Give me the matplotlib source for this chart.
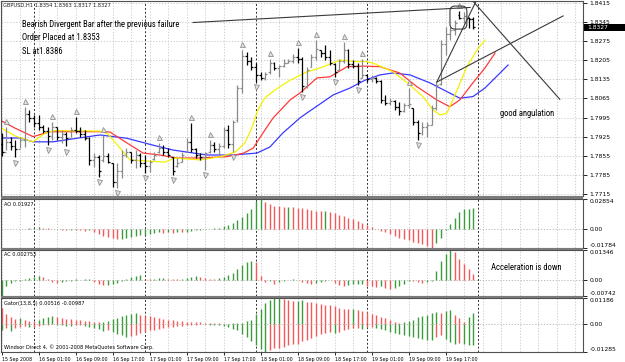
import numpy as np
import matplotlib
matplotlib.use("Agg")
import matplotlib.pyplot as plt
from matplotlib.patches import FancyBboxPatch, Rectangle
from matplotlib import font_manager as fm
from matplotlib.textpath import TextPath
import logging
logging.getLogger('matplotlib.font_manager').setLevel(logging.ERROR)

# ---------------- data (GBPUSD H1, 15 Sep 17:00 .. 19 Sep 23:00) ----------------
bar_open = [1.7900, 1.7870, 1.7905, 1.7890, 1.7880, 1.7915, 1.8010, 1.7995, 1.7975, 1.7960,
            1.7945, 1.7930, 1.7960, 1.7925, 1.7935, 1.7920, 1.7950, 1.7945, 1.7935, 1.7920,
            1.7840, 1.7850, 1.7840, 1.7855, 1.7830, 1.7760, 1.7800, 1.7860, 1.7870, 1.7840,
            1.7860, 1.7830, 1.7820, 1.7845, 1.7870, 1.7885, 1.7870, 1.7850, 1.7820, 1.7835,
            1.7870, 1.7905, 1.7880, 1.7860, 1.7850, 1.7870, 1.7895, 1.7880, 1.7890, 1.7950,
            1.7900, 1.7985, 1.8105, 1.8220, 1.8200, 1.8180, 1.8150, 1.8140, 1.8160, 1.8195,
            1.8175, 1.8185, 1.8195, 1.8200, 1.8215, 1.8210, 1.8110, 1.8180, 1.8215, 1.8240,
            1.8230, 1.8215, 1.8190, 1.8170, 1.8200, 1.8240, 1.8190, 1.8185, 1.8140, 1.8150,
            1.8135, 1.8140, 1.8128, 1.8060, 1.8050, 1.8055, 1.8035, 1.8020, 1.8040, 1.8030,
            1.7980, 1.7940, 1.7960, 1.7970, 1.8030, 1.8118, 1.8265, 1.8300, 1.8315, 1.8370,
            1.8360, 1.8360, 1.8354]
bar_high = [1.7939, 1.7961, 1.7925, 1.7914, 1.7925, 1.8034, 1.8023, 1.8005, 1.8005, 1.7968,
            1.7961, 1.7979, 1.7961, 1.7950, 1.7943, 1.7961, 1.7998, 1.7961, 1.7950, 1.7925,
            1.7866, 1.7859, 1.7932, 1.7866, 1.7830, 1.7830, 1.7877, 1.7884, 1.7870, 1.7877,
            1.7866, 1.7859, 1.7841, 1.7870, 1.7903, 1.7895, 1.7884, 1.7852, 1.7848, 1.7870,
            1.7921, 1.7976, 1.7884, 1.7866, 1.7870, 1.7914, 1.7906, 1.7903, 1.7961, 1.7968,
            1.7987, 1.8114, 1.8242, 1.8235, 1.8216, 1.8194, 1.8162, 1.8162, 1.8209, 1.8198,
            1.8187, 1.8209, 1.8209, 1.8227, 1.8249, 1.8216, 1.8180, 1.8227, 1.8278, 1.8242,
            1.8260, 1.8242, 1.8194, 1.8209, 1.8271, 1.8245, 1.8205, 1.8194, 1.8209, 1.8151,
            1.8151, 1.8143, 1.8132, 1.8078, 1.8067, 1.8060, 1.8052, 1.8049, 1.8103, 1.8030,
            1.7987, 1.7979, 1.7979, 1.8041, 1.8125, 1.8278, 1.8326, 1.8326, 1.8351, 1.8385,
            1.8380, 1.8362, 1.8363]
bar_low = [1.7855, 1.7877, 1.7877, 1.7850, 1.7884, 1.7888, 1.7979, 1.7961, 1.7950, 1.7939,
           1.7895, 1.7914, 1.7914, 1.7903, 1.7890, 1.7925, 1.7939, 1.7925, 1.7914, 1.7822,
           1.7815, 1.7779, 1.7833, 1.7830, 1.7742, 1.7739, 1.7775, 1.7852, 1.7830, 1.7811,
           1.7815, 1.7793, 1.7797, 1.7841, 1.7866, 1.7859, 1.7852, 1.7786, 1.7815, 1.7833,
           1.7870, 1.7870, 1.7848, 1.7841, 1.7804, 1.7866, 1.7870, 1.7859, 1.7884, 1.7884,
           1.7870, 1.7980, 1.8085, 1.8187, 1.8169, 1.8125, 1.8132, 1.8132, 1.8155, 1.8169,
           1.8144, 1.8180, 1.8194, 1.8194, 1.8194, 1.8089, 1.8103, 1.8180, 1.8205, 1.8216,
           1.8205, 1.8187, 1.8144, 1.8169, 1.8194, 1.8176, 1.8176, 1.8114, 1.8140, 1.8125,
           1.8125, 1.8122, 1.8049, 1.8041, 1.8041, 1.8023, 1.8005, 1.8016, 1.8030, 1.7968,
           1.7914, 1.7932, 1.7925, 1.7968, 1.8023, 1.8115, 1.8224, 1.8278, 1.8297, 1.8354,
           1.8340, 1.8322, 1.8317]
bar_close = [1.7870, 1.7905, 1.7890, 1.7880, 1.7915, 1.8010, 1.7995, 1.7975, 1.7960, 1.7945,
             1.7930, 1.7960, 1.7925, 1.7935, 1.7920, 1.7950, 1.7945, 1.7935, 1.7920, 1.7840,
             1.7850, 1.7800, 1.7855, 1.7835, 1.7760, 1.7800, 1.7860, 1.7870, 1.7840, 1.7860,
             1.7830, 1.7820, 1.7835, 1.7860, 1.7885, 1.7870, 1.7860, 1.7800, 1.7830, 1.7860,
             1.7905, 1.7880, 1.7860, 1.7850, 1.7865, 1.7895, 1.7880, 1.7890, 1.7950, 1.7900,
             1.7980, 1.8105, 1.8220, 1.8200, 1.8180, 1.8150, 1.8140, 1.8155, 1.8195, 1.8175,
             1.8185, 1.8195, 1.8200, 1.8215, 1.8210, 1.8110, 1.8170, 1.8215, 1.8245, 1.8230,
             1.8215, 1.8195, 1.8160, 1.8200, 1.8240, 1.8190, 1.8185, 1.8130, 1.8150, 1.8135,
             1.8140, 1.8128, 1.8060, 1.8050, 1.8055, 1.8035, 1.8020, 1.8040, 1.8045, 1.7980,
             1.7940, 1.7960, 1.7970, 1.8030, 1.8115, 1.8265, 1.8300, 1.8315, 1.8340, 1.8360,
             1.8365, 1.8354, 1.8327]

fractal_up = [1, 5, 11, 16, 22, 34, 41, 45, 52, 58, 64, 68, 74, 78, 88, 99]
fractal_down = [3, 10, 14, 21, 25, 31, 37, 44, 50, 55, 65, 72, 77, 90]

# Alligator lines (bar position, price)
jaw_x = [0, 4, 6.8, 11.1, 16.3, 21.3, 27.1, 32.7, 37.1, 44.4, 50, 55.2, 58, 60.8, 64.5, 66,
         71.7, 75.3, 78.6, 81.8, 84.6, 88.3, 92.6, 96.3, 99.1, 101.9, 104.5, 109.5]
jaw_y = [1.7921, 1.7921, 1.7907, 1.7907, 1.7920, 1.7932, 1.7920, 1.7895, 1.7877, 1.7859, 1.7859,
         1.7866, 1.7888, 1.7939, 1.7994, 1.8012, 1.8078, 1.8103, 1.8132, 1.8151, 1.8158, 1.8151,
         1.8122, 1.8090, 1.8066, 1.8072, 1.8103, 1.8187]
teeth_x = [0, 2.9, 6.8, 10.5, 21.3, 23.4, 27.1, 30.6, 34.2, 37.9, 42.9, 48.7, 52.2, 54.4, 56.5,
           58.7, 62.4, 64.5, 68.2, 71, 74.7, 78.6, 81.8, 86.1, 89.8, 94.1, 96.9, 99.1, 101.9,
           104.5, 106.7]
teeth_y = [1.7983, 1.7957, 1.7926, 1.7944, 1.7944, 1.7943, 1.7903, 1.7866, 1.7859, 1.7848, 1.7848,
           1.7853, 1.7865, 1.7884, 1.7939, 1.7994, 1.8060, 1.8085, 1.8140, 1.8144, 1.8181, 1.8183,
           1.8181, 1.8158, 1.8108, 1.8060, 1.8035, 1.8060, 1.8122, 1.8176, 1.8231]
lips_x = [0, 3, 6.8, 9.4, 11.5, 21.3, 23, 25.2, 27.8, 35.3, 37.5, 42.9, 47.2, 50.5, 52.6, 54.1,
          55.4, 56.9, 59.1, 62.4, 66, 68.8, 73.2, 76, 78.6, 80.3, 84.6, 87.7, 91.1, 93.3, 94.8,
          96.3, 98.5, 100.6, 102.8, 104.5]
lips_y = [1.7957, 1.7928, 1.7907, 1.7939, 1.7948, 1.7946, 1.7936, 1.7892, 1.7841, 1.7833, 1.7848,
          1.7841, 1.7852, 1.7870, 1.7903, 1.7957, 1.8023, 1.8067, 1.8096, 1.8132, 1.8162, 1.8176,
          1.8205, 1.8200, 1.8200, 1.8194, 1.8163, 1.8122, 1.8072, 1.8023, 1.8005, 1.8012, 1.8096,
          1.8181, 1.8242, 1.8278]

# hand-drawn trend lines ((bar, price), (bar, price))
trend_lines = [((41.4, 1.8342), (101.3, 1.8397)),
               ((94.1, 1.8125), (102.7, 1.8424)),
               ((94.1, 1.8125), (121.4, 1.8366)),
               ((101.7, 1.8424), (120.7, 1.8062))]
circle_box = (96.95, 1.8318, 3.65, 0.0084)   # bar, price, width(bars), height(price)

ao = [0.0003, -0.0002, 0.0002, -0.0003, 0.0001, 0.0003, 0.0005, 0.0010, 0.0018, 0.0012,
      0.0006, 0.0003, -0.0005, -0.0010, -0.0012, -0.0009, -0.0011, -0.0014, -0.0016, -0.0013,
      -0.0030, -0.0048, -0.0062, -0.0075, -0.0085, -0.0093, -0.0090, -0.0084, -0.0078, -0.0070,
      -0.0060, -0.0052, -0.0047, -0.0040, -0.0033, -0.0036, -0.0031, -0.0034, -0.0029, -0.0031,
      -0.0025, -0.0018, -0.0012, -0.0007, -0.0004, 0.0002, 0.0006, 0.0010, 0.0024, 0.0040,
      0.0055, 0.0080, 0.0110, 0.0150, 0.0190, 0.0265, 0.02854, 0.0249, 0.0233, 0.0218,
      0.0211, 0.0208, 0.0209, 0.0205, 0.0199, 0.0193, 0.0187, 0.0180, 0.0171, 0.0165,
      0.0167, 0.0160, 0.0150, 0.0135, 0.0120, 0.0105, 0.0090, 0.0075, 0.0060, 0.0040,
      0.0020, -0.0005, -0.0015, -0.0030, -0.0050, -0.0068, -0.0082, -0.0095, -0.0108, -0.0120,
      -0.0132, -0.0145, -0.0160, -0.01784, -0.0130, -0.0085, -0.0010, 0.0045, 0.0105, 0.0160,
      0.0185, 0.0190, 0.01927]
ac = [-0.00742, -0.0030, -0.0016, -0.0008, -0.0004, 0.0003, 0.0006, 0.0012, 0.0018, 0.0010,
      0.0004, -0.0009, -0.0014, -0.0012, -0.0008, -0.0004, 0.0001, -0.0002, 0.0002, 0.0004,
      -0.0010, -0.0020, -0.0025, -0.0023, -0.0020, -0.0015, -0.0006, 0.0002, 0.0010, 0.0016,
      0.0022, 0.0005, 0.0002, 0.0004, 0.0006, 0.0009, 0.0005, 0.0002, 0.0001, 0.0004,
      0.0008, 0.0013, 0.0016, 0.0011, 0.0006, 0.0003, 0.0002, 0.0006, 0.0013, 0.0022,
      0.0030, 0.0048, 0.0066, 0.0080, 0.0085, 0.0079, 0.0018, -0.0009, -0.0004, -0.0018,
      -0.0010, -0.0005, -0.0002, 0.0001, -0.0001, -0.0009, -0.0015, -0.0020, -0.0016, -0.0010,
      -0.0004, -0.0003, -0.0015, -0.0024, -0.0027, -0.0024, -0.0021, -0.0020, -0.0019, -0.0027,
      -0.0030, -0.0032, -0.0028, -0.0036, -0.0042, -0.0040, -0.0030, -0.0021, -0.0004, -0.0006,
      -0.0012, -0.0015, -0.0012, -0.0006, 0.0040, 0.0085, 0.0118, 0.01346, 0.0125, 0.0095,
      0.0072, 0.0048, 0.002753]
gator_up = [0.0073, 0.0045, 0.0030, 0.0022, 0.0025, 0.0020, 0.0015, 0.0012, 0.0018, 0.0026,
            0.0033, 0.0036, 0.0030, 0.0028, 0.0024, 0.0022, 0.0020, 0.0016, 0.0014, 0.0012,
            0.0010, 0.0008, 0.0010, 0.0015, 0.0022, 0.0028, 0.0034, 0.0040, 0.0046, 0.0048,
            0.0042, 0.0038, 0.0034, 0.0030, 0.0026, 0.0024, 0.0020, 0.0018, 0.0015, 0.0013,
            0.0011, 0.0010, 0.0008, 0.0007, 0.0006, 0.0004, 0.0003, 0.0002, 0.0001, 0.0001,
            0.0002, 0.0003, 0.0006, 0.0012, 0.0020, 0.0045, 0.0070, 0.0095, 0.0110, 0.0118,
            0.01186, 0.0115, 0.0110, 0.0104, 0.0105, 0.0108, 0.0102, 0.0100, 0.0098, 0.0092,
            0.0088, 0.0085, 0.0080, 0.0075, 0.0070, 0.0066, 0.0068, 0.0064, 0.0060, 0.0055,
            0.0047, 0.0040, 0.0032, 0.0025, 0.0018, 0.0010, 0.0004, 0.0008, 0.0012, 0.0020,
            0.0030, 0.0036, 0.0042, 0.0048, 0.0055, 0.0052, 0.0060, 0.0065, 0.0043, 0.0027,
            0.0010, 0.0030, 0.00516]
gator_down = [-0.0026, -0.0018, -0.0034, -0.0020, -0.0012, -0.0008, -0.0016, -0.0012, -0.0008, -0.0005,
              -0.0003, -0.0002, -0.0004, -0.0006, -0.0008, -0.0010, -0.0007, -0.0005, -0.0008, -0.0012,
              -0.0018, -0.0025, -0.0032, -0.0030, -0.0038, -0.0045, -0.0052, -0.0058, -0.0056, -0.0050,
              -0.0042, -0.0035, -0.0030, -0.0026, -0.0022, -0.0018, -0.0015, -0.0012, -0.0010, -0.0008,
              -0.0006, -0.0004, -0.0003, -0.0002, -0.0002, -0.0003, -0.0004, -0.0006, -0.0010, -0.0016,
              -0.0022, -0.0030, -0.0045, -0.0060, -0.0080, -0.0098, -0.0115, -0.01285, -0.0120, -0.0112,
              -0.0108, -0.0104, -0.0098, -0.0092, -0.0090, -0.0080, -0.0072, -0.0065, -0.0055, -0.0045,
              -0.0040, -0.0036, -0.0042, -0.0038, -0.0030, -0.0025, -0.0020, -0.0018, -0.0022, -0.0016,
              -0.0012, -0.0018, -0.0024, -0.0030, -0.0036, -0.0040, -0.0045, -0.0050, -0.0055, -0.0060,
              -0.0065, -0.0068, -0.0072, -0.0075, -0.0060, -0.0050, -0.0070, -0.0085, -0.0090, -0.0088,
              -0.0092, -0.0095, -0.00987]

price_levels = [1.7715, 1.7785, 1.7855, 1.7925, 1.7995, 1.8065, 1.8135, 1.8205, 1.8275, 1.8345, 1.8415]
last_price = 1.8327
date_bars = [0, 8, 16, 24, 32, 40, 48, 56, 64, 72, 80, 88, 96]
date_labels = ["15 Sep 2008", "16 Sep 01:00", "16 Sep 09:00", "16 Sep 17:00", "17 Sep 01:00",
               "17 Sep 09:00", "17 Sep 17:00", "18 Sep 01:00", "18 Sep 09:00", "18 Sep 17:00",
               "19 Sep 01:00", "19 Sep 09:00", "19 Sep 17:00"]
day_starts = [7, 31, 55, 79, 103]
ao_range = (-0.01784, 0.02854)
ac_range = (-0.00742, 0.01346)
gator_range = (-0.01285, 0.01186)

# ---------------- fonts: narrow face for notes, small sans for labels ----------------
def pick_narrow():
    entries = fm.fontManager.ttflist
    names = {e.name for e in entries}
    for p in ['Liberation Sans Narrow', 'Arial Narrow', 'Roboto Condensed',
              'Open Sans Condensed', 'DejaVu Sans Condensed', 'Noto Sans Condensed']:
        if p in names:
            return fm.FontProperties(family=p)
    for fam in ['DejaVu Sans', 'Noto Sans', 'Open Sans', 'Roboto', 'Liberation Sans']:
        for e in entries:
            if (e.name == fam and str(e.stretch) in ('condensed', 'semi-condensed')
                    and e.style == 'normal' and str(e.weight) in ('400', 'normal', 'regular')):
                return fm.FontProperties(fname=e.fname)
    return fm.FontProperties(family='DejaVu Sans')


FP_N = pick_narrow()
FP_S = fm.FontProperties(family='DejaVu Sans')


def fit(fpbase, text, px):
    w = TextPath((0, 0), text, size=10, prop=fpbase).get_extents().width * 100 / 72
    return 10 * px / w


S_ANN = fit(FP_N, "Bearish Divergent Bar after the previous failure", 159)
S_DATE = fit(FP_S, "16 Sep 01:00", 31)
S_PRICE = fit(FP_S, "1.8415", 20)
S_IND = fit(FP_S, "Windsor Direct 4, (c) 2001-2008 MetaQuotes Software Corp.", 151)
S_HDR = fit(FP_S, "GBPUSD,H1 1.8354 1.8363 1.8317 1.8327", 107)


def fp(base, size):
    f = base.copy()
    f.set_size(size)
    return f


# ---------------- figure ----------------
W, H = 625, 362
fig = plt.figure(figsize=(W / 100, H / 100), dpi=100)
fig.patch.set_facecolor('white')
GREEN, RED = '#3c9c3c', '#f25a5a'


def box(x0, y0, x1, y1):
    return [x0 / W, 1 - y1 / H, (x1 - x0) / W, (y1 - y0) / H]


XL = (-0.13, 125.71)
ax_p = fig.add_axes(box(1, 0.5, 583, 196))
ax_ao = fig.add_axes(box(1, 198.5, 583, 248))
ax_ac = fig.add_axes(box(1, 250, 583, 296))
ax_g = fig.add_axes(box(1, 298, 583, 352))

for ax in (ax_p, ax_ao, ax_ac, ax_g):
    ax.set_xlim(*XL)
    ax.set_facecolor('white')
    for s in ax.spines.values():
        s.set_color('#505050')
        s.set_linewidth(0.8)
    ax.yaxis.tick_right()
    ax.tick_params(axis='y', length=3, width=0.6, pad=1.5, colors='#000000')
    for g in range(0, 126, 4):
        ax.axvline(g, color='#c4c4c4', lw=0.6, ls=(0, (1.5, 2)), zorder=0)
    for d in day_starts:
        ax.axvline(d, color='#303030', lw=0.7, ls=(0, (2, 2)), zorder=0.5)

for ax in (ax_p, ax_ao, ax_ac):
    ax.set_xticks([])

# panel separators
for y0, y1 in [(196, 198.5), (248, 250), (296, 298)]:
    fig.add_artist(Rectangle((1 / W, 1 - y1 / H), 582 / W, (y1 - y0) / H,
                             transform=fig.transFigure, color='#7a7a7a', lw=0))

# ---- main price panel ----
ax = ax_p
ax.set_ylim(1.77095, 1.84223)
for lv in price_levels:
    ax.axhline(lv, color='#c4c4c4', lw=0.6, ls=(0, (1.5, 2)), zorder=0)
ax.set_yticks(price_levels)
ax.set_yticklabels([f"{v:.4f}" for v in price_levels], fontproperties=fp(FP_S, S_PRICE))

idx = np.arange(len(bar_close))
o = np.array(bar_open); c = np.array(bar_close)
hi = np.array(bar_high); lo = np.array(bar_low)
cols = np.where(c > o, '#8a8a8a', '#000000')
ax.vlines(idx, lo, hi, colors=cols, lw=0.9, zorder=3)
ax.hlines(o, idx - 0.42, idx, colors=cols, lw=0.9, zorder=3)
ax.hlines(c, idx, idx + 0.42, colors=cols, lw=0.9, zorder=3)

ax.plot(jaw_x, jaw_y, color='#3a3aff', lw=0.9, zorder=2)
ax.plot(teeth_x, teeth_y, color='#ff3a3a', lw=0.9, zorder=2)
ax.plot(lips_x, lips_y, color='#f2f200', lw=0.9, zorder=2)

ax.plot(fractal_up, hi[fractal_up] + 0.0021, ls='none', marker='^', ms=3.6,
        mfc='#e2e2e2', mec='#909090', mew=0.6, zorder=4)
ax.plot(fractal_down, lo[fractal_down] - 0.0019, ls='none', marker='v', ms=3.6,
        mfc='#e2e2e2', mec='#909090', mew=0.6, zorder=4)

for (x0, y0), (x1, y1) in trend_lines:
    ax.plot([x0, x1], [y0, y1], color='#3a3a3a', lw=0.8, zorder=5)
bx, by, bw, bh = circle_box
ax.add_patch(FancyBboxPatch((bx, by), bw, bh, boxstyle='round,pad=0,rounding_size=1.1',
                            mutation_aspect=0.00168, fill=False, ec='#3a3a3a', lw=0.8, zorder=5))

# current price tag
fig.add_artist(Rectangle((584 / W, 1 - 31 / H), 41 / W, 7.5 / H,
                         transform=fig.transFigure, color='#000000', lw=0))
fig.text(587.5 / W, 1 - 27.3 / H, f"{last_price:.4f}", color='white',
         fontproperties=fp(FP_S, S_PRICE), va='center', ha='left')


# ---- indicator panels ----
def colors_from(vals, mode):
    v = np.abs(np.array(vals)) if mode == 'abs' else np.array(vals)
    out = [GREEN]
    for i in range(1, len(v)):
        out.append(GREEN if v[i] > v[i - 1] else RED)
    return out


def setup_ind(ax, rng):
    ax.set_ylim(*rng)
    ax.axhline(0, color='#b0b0b0', lw=0.6, ls=(0, (1.5, 2)), zorder=0)
    ax.set_yticks([rng[0], 0, rng[1]])
    ax.set_yticklabels(["%.5f" % rng[0], "0.00", "%.5f" % rng[1]],
                       fontproperties=fp(FP_S, S_PRICE))
    labs = ax.get_yticklabels()
    labs[0].set_va('bottom')
    labs[2].set_va('top')


setup_ind(ax_ao, ao_range)
aoc = colors_from(ao, 'val'); aoc[0] = RED
ax_ao.vlines(idx, 0, ao, colors=aoc, lw=1.0)

setup_ind(ax_ac, ac_range)
acc = colors_from(ac, 'val')
ax_ac.vlines(idx, 0, ac, colors=acc, lw=1.0)

setup_ind(ax_g, gator_range)
guc = colors_from(gator_up, 'val'); guc[0] = RED
gdc = colors_from(gator_down, 'abs')
ax_g.vlines(idx, 0, gator_up, colors=guc, lw=1.0)
ax_g.vlines(idx, gator_down, 0, colors=gdc, lw=1.0)

ax_g.set_xticks(date_bars)
ax_g.set_xticklabels(date_labels, fontproperties=fp(FP_S, S_DATE), ha='left')
ax_g.tick_params(axis='x', length=2.5, width=0.6, pad=0.8, colors='#000000')


# ---- texts ----
def ftext(x, y, s, base, size, **kw):
    fig.text(x / W, 1 - y / H, s, fontproperties=fp(base, size), va='center', ha='left', **kw)


ftext(3, 5, "GBPUSD,H1 1.8354 1.8363 1.8317 1.8327", FP_S, S_HDR, color='#202020')
ftext(22.5, 24.5, "Bearish Divergent Bar after the previous failure", FP_N, S_ANN)
ftext(22.5, 37.8, "Order Placed at 1.8353", FP_N, S_ANN)
ftext(22.5, 51.2, "SL at1.8386", FP_N, S_ANN)
ftext(500, 113, "good angulation", FP_N, S_ANN)
ftext(491, 267.5, "Acceleration is down", FP_N, S_ANN)
ftext(4, 204, "AO 0.01927", FP_S, S_IND)
ftext(4, 255, "AC 0.002753", FP_S, S_IND)
ftext(4, 304, "Gator(13,8,5) 0.00516 -0.00987", FP_S, S_IND)
ftext(4, 347.5, "Windsor Direct 4, \u00a9 2001-2008 MetaQuotes Software Corp.", FP_S, S_IND)

fig.savefig("out.png", dpi=100, facecolor='white')
